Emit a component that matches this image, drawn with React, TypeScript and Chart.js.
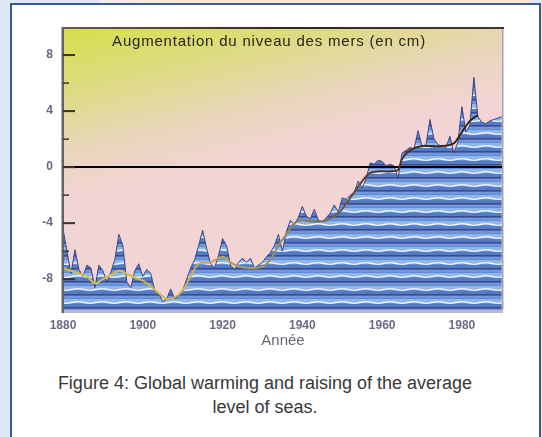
import React, { useEffect, useRef } from 'react';
import { Chart, registerables } from 'chart.js';

Chart.register(...registerables);

// ---- Data ----
const firstYear = 1880;
// annual sea level (cm), 1880 .. 1990
const seaLevel = [
  -4.4, -6.0, -7.6, -5.9, -7.3, -7.8, -7.0, -7.2, -8.6, -7.0,
  -7.4, -8.2, -7.5, -6.6, -4.8, -5.6, -8.2, -8.6, -7.4, -6.9,
  -7.8, -7.3, -7.6, -8.8, -9.0, -9.6, -9.4, -8.7, -9.4, -9.2,
  -8.8, -8.0, -7.2, -6.6, -5.6, -4.5, -5.8, -6.9, -7.2, -6.3,
  -5.1, -5.6, -7.0, -7.3, -6.8, -6.5, -6.8, -6.5, -7.2, -7.0,
  -6.8, -6.4, -6.1, -5.6, -4.8, -6.0, -4.6, -3.8, -4.1, -3.6,
  -2.8, -3.5, -3.7, -3.0, -3.8, -3.9, -3.6, -3.3, -2.7, -3.2,
  -2.2, -2.3, -2.0, -1.8, -1.0, -1.5, -0.8, 0.3, 0.2, 0.5,
  0.4, 0.1, 0.2, 0.1, -0.8, 1.0, 1.2, 1.4, 1.3, 2.6,
  1.5, 1.6, 3.4, 2.0, 1.6, 1.5, 1.4, 2.2, 1.0, 1.8,
  4.3, 2.5, 3.0, 6.4, 3.6, 3.2, 3.1, 3.3, 3.4, 3.5,
  3.6,
];
const smoothYears = [
  1880, 1883, 1886, 1888, 1890, 1892, 1894, 1896, 1898, 1900,
  1902, 1904, 1906, 1908, 1910, 1912, 1914, 1917, 1920, 1922,
  1924, 1927, 1930, 1932, 1934, 1936, 1938, 1940, 1943, 1946,
  1949, 1951, 1953, 1955, 1957, 1959, 1962, 1964, 1965, 1967,
  1970, 1975, 1978, 1980, 1982, 1984,
];
const smoothLevel = [
  -7.2, -7.5, -7.8, -8.3, -8.0, -7.7, -7.4, -7.6, -7.9, -8.1,
  -8.5, -9.0, -9.4, -9.3, -8.8, -7.8, -6.9, -6.8, -6.4, -6.8,
  -7.1, -7.2, -7.1, -6.6, -5.6, -4.8, -4.0, -3.8, -3.9, -3.8,
  -3.3, -2.6, -1.8, -1.0, -0.4, -0.3, -0.3, -0.2, 0.6, 1.2,
  1.5, 1.5, 1.7, 2.5, 3.3, 3.7,
];
const xTicks = [1880, 1900, 1920, 1940, 1960, 1980];
const yMajorTicks = [-8, -4, 0, 4, 8];
const yMinorTicks = [-6, -2, 2, 6];
const xMin = 1880;
const xMax = 1990.3;
const yMin = -10.2;
const yMax = 9.86;
const chartTitle = 'Augmentation du niveau des mers (en cm)';
const xAxisTitle = 'Année';
const captionLines = [
  'Figure 4: Global warming and raising of the average',
  'level of seas.',
];

function makeWavePattern(ctx: CanvasRenderingContext2D): CanvasPattern | string {
  const c = document.createElement('canvas');
  c.width = 24;
  c.height = 13;
  const p = c.getContext('2d');
  if (!p) return '#5d85cc';
  p.fillStyle = '#628bd2';
  p.fillRect(0, 0, 24, 13);
  p.fillStyle = '#8cb8ec';
  p.fillRect(0, 0, 24, 3);
  p.fillStyle = '#547cc4';
  p.fillRect(0, 5, 24, 3);
  p.fillStyle = '#3c4890';
  p.fillRect(0, 8, 24, 1.5);
  p.fillStyle = '#7ea6e2';
  p.fillRect(0, 10.5, 24, 1);
  p.strokeStyle = '#f6f6ff';
  p.lineWidth = 1.3;
  p.beginPath();
  p.moveTo(0, 3.5);
  p.quadraticCurveTo(6, 2, 12, 3.5);
  p.quadraticCurveTo(18, 5, 24, 3.5);
  p.stroke();
  return ctx.createPattern(c, 'repeat') || '#5d85cc';
}

const framePlugin = {
  id: 'framePlugin',
  beforeDatasetsDraw(chart: any) {
    const { ctx, chartArea: a } = chart;
    ctx.save();
    const g = ctx.createLinearGradient(a.left, a.top, a.left + 40, a.top + 165);
    g.addColorStop(0, '#d6df4c');
    g.addColorStop(0.38, '#dedb84');
    g.addColorStop(0.72, '#e9d6bc');
    g.addColorStop(1, '#f2d4d4');
    ctx.fillStyle = g;
    ctx.fillRect(a.left, a.top, a.right - a.left, a.bottom - a.top);
    ctx.restore();
  },
  afterDatasetDraw(chart: any, args: any) {
    if (args.index !== 0) return;
    const { ctx, chartArea: a, scales } = chart;
    const y0 = scales.y.getPixelForValue(0);
    ctx.save();
    ctx.strokeStyle = '#000';
    ctx.lineWidth = 2;
    ctx.beginPath();
    ctx.moveTo(a.left, y0);
    ctx.lineTo(a.right, y0);
    ctx.stroke();
    ctx.restore();
  },
  afterDraw(chart: any) {
    const { ctx, chartArea: a, scales } = chart;
    ctx.save();
    // top edge
    const tg = ctx.createLinearGradient(a.left, 0, a.right, 0);
    tg.addColorStop(0, '#6a5a58');
    tg.addColorStop(0.5, '#302828');
    tg.addColorStop(1, '#3a3838');
    ctx.fillStyle = tg;
    ctx.fillRect(a.left - 1, a.top - 2, a.right - a.left + 2, 2);
    // bottom band
    ctx.fillStyle = '#c6b6cc';
    ctx.fillRect(a.left, a.bottom, a.right - a.left, 3);
    // right edge
    ctx.fillStyle = '#a8a0bc';
    ctx.fillRect(a.right - 1, a.top, 1.5, a.bottom - a.top);
    // left axis
    ctx.fillStyle = '#6c5e66';
    ctx.fillRect(a.left - 1.5, a.top - 2, 2.5, a.bottom - a.top + 5);
    // inner ticks
    ctx.strokeStyle = '#3a3030';
    ctx.lineWidth = 2;
    yMajorTicks.forEach((v) => {
      const y = scales.y.getPixelForValue(v);
      ctx.beginPath();
      ctx.moveTo(a.left, y);
      ctx.lineTo(a.left + 12, y);
      ctx.stroke();
    });
    ctx.lineWidth = 1.5;
    yMinorTicks.forEach((v) => {
      const y = scales.y.getPixelForValue(v);
      ctx.beginPath();
      ctx.moveTo(a.left, y);
      ctx.lineTo(a.left + 6, y);
      ctx.stroke();
    });
    // title inside plot
    ctx.fillStyle = '#26261e';
    ctx.font = '15px "Liberation Sans", Arial, sans-serif';
    (ctx as any).letterSpacing = '0.8px';
    ctx.textAlign = 'center';
    ctx.textBaseline = 'middle';
    ctx.fillText(chartTitle, 269, 42);
    ctx.restore();
  },
};

export default function App() {
  const ref = useRef<HTMLCanvasElement | null>(null);

  useEffect(() => {
    const canvas = ref.current;
    if (!canvas) return;
    const ctx = canvas.getContext('2d');
    if (!ctx) return;
    const pattern = makeWavePattern(ctx);
    const chart = new Chart(canvas, {
      type: 'line',
      data: {
        datasets: [
          {
            data: seaLevel.map((v, i) => ({ x: firstYear + i, y: v })),
            fill: 'start',
            backgroundColor: pattern as any,
            borderColor: '#3a4584',
            borderWidth: 1,
            pointRadius: 0,
            tension: 0,
            order: 2,
          },
          {
            data: smoothLevel.map((v, i) => ({ x: smoothYears[i], y: v })),
            fill: false,
            borderColor: (c: any) => {
              const a = c.chart.chartArea;
              if (!a) return '#a08a50';
              const g = c.chart.ctx.createLinearGradient(a.left, 0, a.right, 0);
              g.addColorStop(0, '#d4c644');
              g.addColorStop(0.3, '#c8b050');
              g.addColorStop(0.5, '#9a8a68');
              g.addColorStop(0.72, '#4a3a28');
              g.addColorStop(1, '#2a1a10');
              return g;
            },
            borderWidth: 2,
            pointRadius: 0,
            tension: 0.3,
            order: 1,
          },
        ],
      },
      options: {
        responsive: false,
        animation: false,
        layout: { padding: { left: 33, right: 39, top: 29, bottom: 10 } },
        plugins: { legend: { display: false }, tooltip: { enabled: false } },
        scales: {
          x: {
            type: 'linear',
            min: xMin,
            max: xMax,
            grid: { display: false, drawTicks: false },
            border: { display: false },
            afterBuildTicks: (s: any) => {
              s.ticks = xTicks.map((v) => ({ value: v }));
            },
            afterFit: (s: any) => {
              s.height = 40;
            },
            ticks: {
              padding: 8,
              color: '#71678a',
              font: { family: '"Liberation Sans", Arial, sans-serif', size: 12, weight: 'bold' },
              callback: (v: any) => String(v),
              maxRotation: 0,
            },
            title: {
              display: true,
              text: xAxisTitle,
              color: '#6a6470',
              font: { family: '"Liberation Sans", Arial, sans-serif', size: 15 },
              padding: { top: 0, bottom: 0 },
            },
          },
          y: {
            min: yMin,
            max: yMax,
            grid: { display: false, drawTicks: false },
            border: { display: false },
            afterBuildTicks: (s: any) => {
              s.ticks = yMajorTicks.map((v) => ({ value: v }));
            },
            afterFit: (s: any) => {
              s.width = 30;
            },
            ticks: {
              padding: 10,
              color: '#6c6486',
              font: { family: '"Liberation Sans", Arial, sans-serif', size: 12, weight: 'bold' },
              callback: (v: any) => String(v),
            },
          },
        },
      },
      plugins: [framePlugin],
    });
    return () => chart.destroy();
  }, []);

  return (
    <div
      style={{
        position: 'fixed',
        left: 0,
        top: 0,
        width: 542,
        height: 437,
        background: '#dfe9f6',
        overflow: 'hidden',
      }}
    >
      <div
        style={{
          position: 'absolute',
          left: 100,
          top: 0,
          width: 430,
          height: 3,
          background: 'linear-gradient(90deg, #f4f0ea, #fbe8c8 20%, #fbe8c8)',
        }}
      />
      <div
        style={{
          position: 'absolute',
          left: 10,
          top: 3,
          width: 527,
          height: 440,
          borderLeft: '2px solid #3a5a94',
          borderTop: '2px solid #3a5a94',
          borderRight: '2px solid #3a5a94',
          background: '#ffffff',
        }}
      />
      <canvas
        ref={ref}
        width={542}
        height={360}
        style={{ position: 'absolute', left: 0, top: 0, width: 542, height: 360 }}
      />
      <div
        style={{
          position: 'absolute',
          left: 10,
          top: 371,
          width: 510,
          textAlign: 'center',
          fontFamily: '"Liberation Sans", Arial, sans-serif',
          fontSize: 18,
          lineHeight: '24px',
          color: '#383838',
        }}
      >
        {captionLines.map((l, i) => (
          <div key={i}>{l}</div>
        ))}
      </div>
    </div>
  );
}
